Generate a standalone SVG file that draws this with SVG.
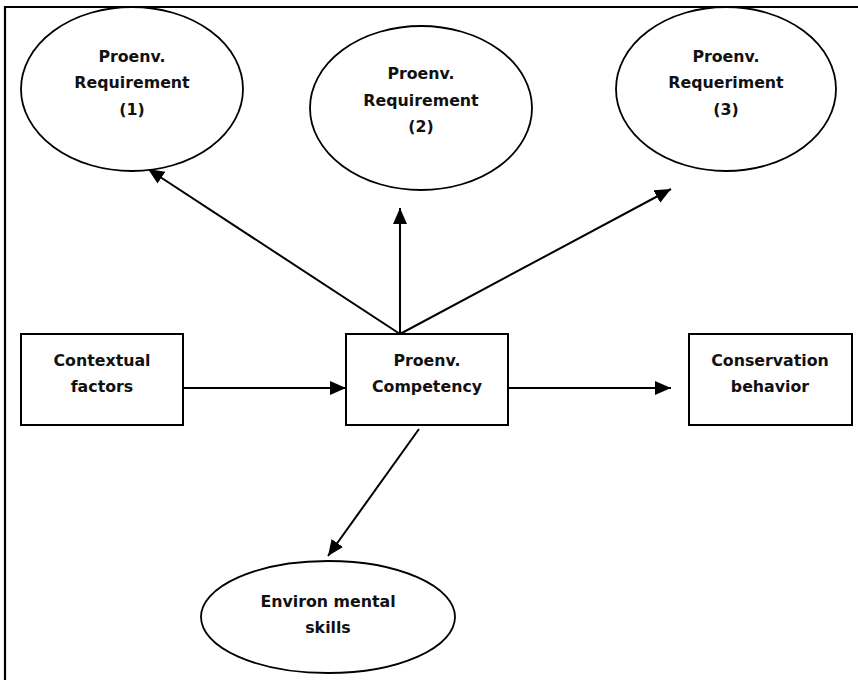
<svg xmlns="http://www.w3.org/2000/svg" width="858" height="680" viewBox="0 0 858 680">
<style>
.shape{fill:#fff;stroke:#000;stroke-width:2}
.ell{fill:#fff;stroke:#000;stroke-width:1.8}
.lbl{font-family:"DejaVu Sans","Liberation Sans",sans-serif;font-weight:bold;font-size:15.8px;fill:#111;text-anchor:middle}
.conn{stroke:#000;stroke-width:2;fill:none;marker-end:url(#arr)}
</style>
<defs>
<marker id="arr" viewBox="0 0 16 14" refX="16" refY="7" markerWidth="16" markerHeight="14" markerUnits="userSpaceOnUse" orient="auto">
<path d="M0,0 L16,7 L0,14 Z" fill="#000"/>
</marker>
</defs>
<rect width="858" height="680" fill="#fff"/>
<g id="frame">
<line x1="4" y1="7" x2="858" y2="7" stroke="#000" stroke-width="2.2"/>
<line x1="5" y1="6" x2="5" y2="680" stroke="#000" stroke-width="2.2"/>
</g>
<g id="connectors">
<line class="conn" x1="183" y1="388" x2="346" y2="388"/>
<line class="conn" x1="508" y1="388" x2="671" y2="388"/>
<line class="conn" x1="400" y1="334" x2="148" y2="169"/>
<line class="conn" x1="400" y1="334" x2="400" y2="208"/>
<line class="conn" x1="400" y1="334" x2="671" y2="189"/>
<line class="conn" x1="419" y1="429" x2="328" y2="556"/>
</g>
<g id="req1">
<ellipse class="ell" cx="132" cy="89" rx="111" ry="82"/>
<text class="lbl" x="132" y="62">Proenv.</text>
<text class="lbl" x="132" y="88">Requirement</text>
<text class="lbl" x="132" y="115">(1)</text>
</g>
<g id="req2">
<ellipse class="ell" cx="421" cy="108" rx="111" ry="82"/>
<text class="lbl" x="421" y="79">Proenv.</text>
<text class="lbl" x="421" y="106">Requirement</text>
<text class="lbl" x="421" y="132">(2)</text>
</g>
<g id="req3">
<ellipse class="ell" cx="726" cy="89" rx="110" ry="82"/>
<text class="lbl" x="726" y="62">Proenv.</text>
<text class="lbl" x="726" y="88">Requeriment</text>
<text class="lbl" x="726" y="115">(3)</text>
</g>
<g id="contextual">
<rect class="shape" x="21" y="334" width="162" height="91"/>
<text class="lbl" x="102" y="366">Contextual</text>
<text class="lbl" x="102" y="392">factors</text>
</g>
<g id="competency">
<rect class="shape" x="346" y="334" width="162" height="91"/>
<text class="lbl" x="427" y="366">Proenv.</text>
<text class="lbl" x="427" y="392">Competency</text>
</g>
<g id="conservation">
<rect class="shape" x="689" y="334" width="163" height="91"/>
<text class="lbl" x="770" y="366">Conservation</text>
<text class="lbl" x="770" y="392">behavior</text>
</g>
<g id="skills">
<ellipse class="ell" cx="328" cy="617" rx="127" ry="56"/>
<text class="lbl" x="328" y="607">Environ mental</text>
<text class="lbl" x="328" y="633">skills</text>
</g>
</svg>
